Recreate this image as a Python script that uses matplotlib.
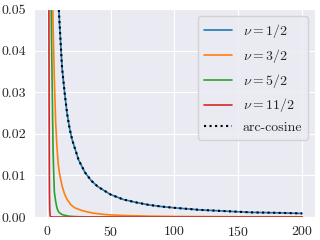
import matplotlib
matplotlib.use("Agg")
import matplotlib.pyplot as plt
import seaborn as sns

# values
acos_x = [8, 9, 10, 12, 14, 16, 18, 20, 25, 30, 35, 40, 50, 60, 70, 80, 90,
          100, 120, 140, 160, 180, 200]
acos_y = [0.062, 0.053, 0.047, 0.036, 0.030, 0.0248, 0.0212, 0.0185, 0.0137,
          0.0107, 0.0087, 0.0073, 0.0054, 0.0042, 0.0035, 0.0029, 0.0025,
          0.0022, 0.0017, 0.0014, 0.0011, 0.0010, 0.00085]

# nu = 1/2 lies exactly under the arc-cosine curve
nu1_x = acos_x
nu1_y = acos_y

nu3_x = [4, 4.5, 5, 6, 7, 8, 9, 10, 12, 14, 16, 19, 22, 27, 32, 37, 45, 50,
         60, 80, 100, 150, 200]
nu3_y = [0.07, 0.056, 0.046, 0.033, 0.023, 0.017, 0.0128, 0.0105, 0.0075,
         0.0055, 0.0042, 0.0029, 0.0022, 0.0016, 0.0012, 0.0009, 0.0006,
         0.0005, 0.00035, 0.0002, 0.00012, 0.00005, 0.00003]

nu5_x = [3, 3.5, 4, 4.5, 5, 5.5, 6, 7, 8, 9, 10, 12, 14, 17, 21, 25, 30, 40,
         60, 100, 200]
nu5_y = [0.075, 0.05, 0.038, 0.027, 0.016, 0.0105, 0.006, 0.0038, 0.0022,
         0.0014, 0.001, 0.0006, 0.0004, 0.0002, 0.0001, 0.00006, 0.00003,
         0.00001, 0, 0, 0]

nu11_x = [1.6, 1.7, 1.8, 1.9, 2.0, 2.1, 2.2, 2.4, 2.7, 3, 5, 200]
nu11_y = [0.065, 0.052, 0.04, 0.028, 0.018, 0.010, 0.005, 0.0015, 0.0003,
          0.00005, 0, 0]

sns.set_style("darkgrid")
plt.rcParams["font.family"] = "serif"
plt.rcParams["font.serif"] = ["cmr10"]
plt.rcParams["mathtext.fontset"] = "cm"
plt.rcParams["axes.formatter.use_mathtext"] = True

fig = plt.figure(figsize=(3.2, 2.4), dpi=100)
ax = fig.add_axes([0.106, 0.096, 0.878, 0.866])

ax.plot(nu1_x, nu1_y, color="tab:blue", lw=1.2, label=r"$\nu=1/2$")
ax.plot(nu3_x, nu3_y, color="tab:orange", lw=1.2, label=r"$\nu=3/2$")
ax.plot(nu5_x, nu5_y, color="tab:green", lw=1.2, label=r"$\nu=5/2$")
ax.plot(nu11_x, nu11_y, color="tab:red", lw=1.2, label=r"$\nu=11/2$")
ax.plot(acos_x, acos_y, color="black", ls=":", lw=1.5, label="arc-cosine")

ax.set_xlim(-10, 210)
ax.set_ylim(0, 0.05)
ax.set_xticks([0, 50, 100, 150, 200])
ax.set_yticks([0, 0.01, 0.02, 0.03, 0.04, 0.05])
ax.set_yticklabels(["0.00", "0.01", "0.02", "0.03", "0.04", "0.05"])
ax.tick_params(labelsize=10, pad=2)
ax.legend(loc="upper right", fontsize=10)

fig.savefig("out.png", dpi=100)
